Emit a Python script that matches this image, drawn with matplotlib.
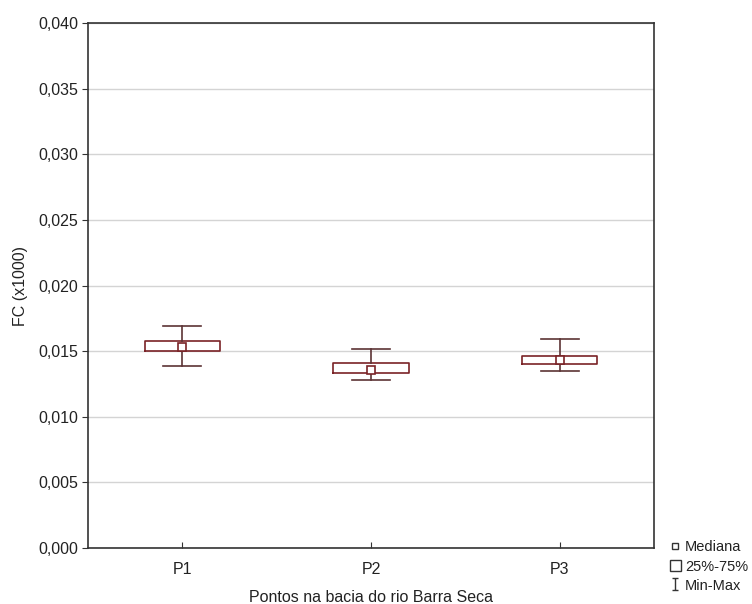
import matplotlib
matplotlib.use('Agg')
import matplotlib.pyplot as plt
from matplotlib.lines import Line2D
from matplotlib.patches import Patch
from matplotlib.path import Path
from matplotlib.ticker import FuncFormatter

plt.rcParams['font.family'] = ['Liberation Sans', 'DejaVu Sans']

# summary statistics per sampling point
pontos = ['P1', 'P2', 'P3']
minimo = [0.0139, 0.0128, 0.0135]
q1 = [0.0150, 0.0133, 0.0140]
mediana = [0.0153, 0.0136, 0.0143]
q3 = [0.0158, 0.0141, 0.0146]
maximo = [0.0169, 0.0152, 0.0159]

box_color = '#7a2226'
line_color = '#5c3335'
txt = '#222222'

fig = plt.figure(figsize=(7.52, 6.04), dpi=100)
ax = fig.add_axes([88/752, 56/604, 566/752, 525/604])

stats = []
for i in range(len(pontos)):
    stats.append({'label': pontos[i], 'whislo': minimo[i], 'q1': q1[i],
                  'med': mediana[i], 'q3': q3[i], 'whishi': maximo[i]})

pos = [1, 2, 3]
ax.bxp(stats, positions=pos, widths=0.4, capwidths=0.2, showfliers=False,
       boxprops=dict(color=box_color, linewidth=1.2),
       whiskerprops=dict(color=line_color, linewidth=1.2),
       capprops=dict(color=line_color, linewidth=1.2),
       medianprops=dict(linewidth=0))
ax.plot(pos, mediana, ls='none', marker='s', ms=6, mfc='white',
        mec=box_color, mew=1.2, zorder=4)

ax.set_xlim(0.5, 3.5)
ax.set_ylim(0, 0.040)
ax.set_yticks([0.005 * k for k in range(9)])
ax.yaxis.set_major_formatter(FuncFormatter(lambda v, p: f'{v:.3f}'.replace('.', ',')))
ax.grid(axis='y', color='#d4d4d4', linewidth=1)
ax.set_axisbelow(True)

for s in ax.spines.values():
    s.set_color('#333333')
    s.set_linewidth(1.2)

ax.tick_params(axis='y', direction='out', length=4, color='#333333',
               labelsize=11.5, labelcolor=txt, pad=3)
ax.tick_params(axis='x', direction='in', length=4, color='#333333',
               labelsize=11.5, labelcolor=txt, pad=10)

ax.set_ylabel('FC (x1000)', fontsize=11.5, color=txt)
ax.yaxis.set_label_coords(-67/566, 0.5)
ax.yaxis.label.set_va('center')
ax.set_xlabel('Pontos na bacia do rio Barra Seca', fontsize=11.5, color=txt)
ax.xaxis.set_label_coords(0.5, -49/525)
ax.xaxis.label.set_va('center')

# legend symbol for the min-max bar
imark = Path([(-0.5, 1), (0.5, 1), (0, 1), (0, -1), (-0.5, -1), (0.5, -1)],
             [Path.MOVETO, Path.LINETO, Path.MOVETO, Path.LINETO, Path.MOVETO, Path.LINETO])
handles = [
    Line2D([], [], ls='none', marker='s', ms=4, mfc='white', mec='#333333', mew=1),
    Patch(facecolor='white', edgecolor='#333333', linewidth=1),
    Line2D([], [], ls='none', marker=imark, ms=9, mfc='none', mec='#333333', mew=1),
]
fig.legend(handles, ['Mediana', '25%-75%', 'Min-Max'], loc='upper left',
           bbox_to_anchor=(663/752, 1 - 533/604), frameon=False,
           fontsize=10.5, handlelength=0.7, handleheight=0.85,
           handletextpad=0.3, labelspacing=0.36, borderpad=0,
           labelcolor=txt)

fig.savefig('out.png', dpi=100)
